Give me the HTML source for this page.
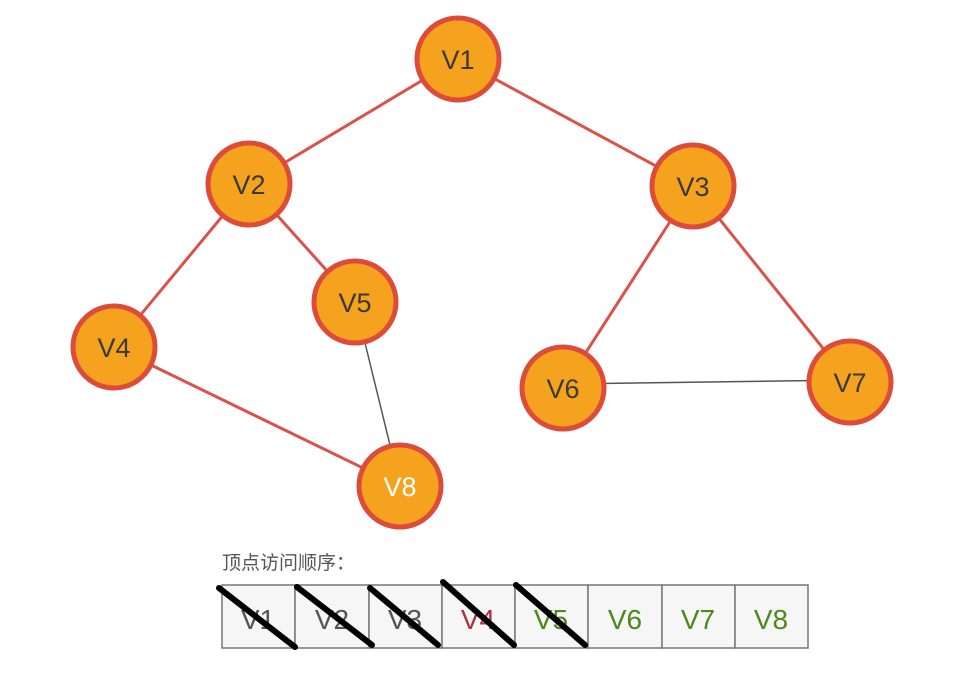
<!DOCTYPE html>
<html><head><meta charset="utf-8"><style>
html,body{margin:0;padding:0;background:#fff;width:961px;height:673px;overflow:hidden}
text{font-family:"Liberation Sans","Noto Sans CJK SC",sans-serif}
</style></head><body>
<svg width="961" height="673" viewBox="0 0 961 673" xmlns="http://www.w3.org/2000/svg">
<g stroke="#d9534a" stroke-width="3">
<line x1="458" y1="59" x2="249" y2="184"/>
<line x1="458" y1="59" x2="693" y2="186"/>
<line x1="249" y1="184" x2="114" y2="347"/>
<line x1="249" y1="184" x2="355" y2="302"/>
<line x1="114" y1="347" x2="400" y2="486"/>
<line x1="693" y1="186" x2="563" y2="388"/>
<line x1="693" y1="186" x2="850" y2="382"/>
</g>
<g stroke="#555" stroke-width="1.5">
<line x1="355" y1="302" x2="400" y2="486"/>
<line x1="563" y1="384" x2="850" y2="380"/>
</g>
<g fill="#f5a31e" stroke="#dd4b3a" stroke-width="5">
<circle cx="458" cy="59" r="41"/>
<circle cx="249" cy="184" r="41"/>
<circle cx="693" cy="186" r="41"/>
<circle cx="355" cy="302" r="41"/>
<circle cx="114" cy="347" r="41"/>
<circle cx="563" cy="388" r="41"/>
<circle cx="850" cy="382" r="41"/>
<circle cx="400" cy="486" r="41"/>
</g>
<g fill="#3a3a3a" font-size="27" text-anchor="middle">
<text x="458" y="69">V1</text>
<text x="249" y="194">V2</text>
<text x="693" y="196">V3</text>
<text x="355" y="312">V5</text>
<text x="114" y="357">V4</text>
<text x="563" y="398">V6</text>
<text x="850" y="392">V7</text>
<text x="400" y="496" fill="#fff">V8</text>
</g>
<text x="222" y="569" font-size="19" fill="#555">顶点访问顺序：</text>
<g fill="#f6f6f6" stroke="#777" stroke-width="1.5">
<rect x="222" y="585" width="73" height="63"/>
<rect x="295" y="585" width="74" height="63"/>
<rect x="369" y="585" width="73" height="63"/>
<rect x="442" y="585" width="73" height="63"/>
<rect x="515" y="585" width="73" height="63"/>
<rect x="588" y="585" width="74" height="63"/>
<rect x="662" y="585" width="73" height="63"/>
<rect x="735" y="585" width="73" height="63"/>
</g>
<g font-size="28" text-anchor="middle">
<text x="258" y="629" fill="#555">V1</text>
<text x="332" y="629" fill="#555">V2</text>
<text x="405" y="629" fill="#555">V3</text>
<text x="478" y="629" fill="#b0303a">V4</text>
<text x="551" y="629" fill="#4a8a1a">V5</text>
<text x="625" y="629" fill="#4a8a1a">V6</text>
<text x="698" y="629" fill="#4a8a1a">V7</text>
<text x="771" y="629" fill="#4a8a1a">V8</text>
</g>
<g stroke="#000" stroke-width="6" stroke-linecap="round">
<line x1="219" y1="588" x2="295" y2="647"/>
<line x1="297" y1="587" x2="372" y2="645"/>
<line x1="370" y1="588" x2="438" y2="645"/>
<line x1="443" y1="582" x2="514" y2="645"/>
<line x1="516" y1="585" x2="585" y2="645"/>
</g>
</svg>
</body></html>
